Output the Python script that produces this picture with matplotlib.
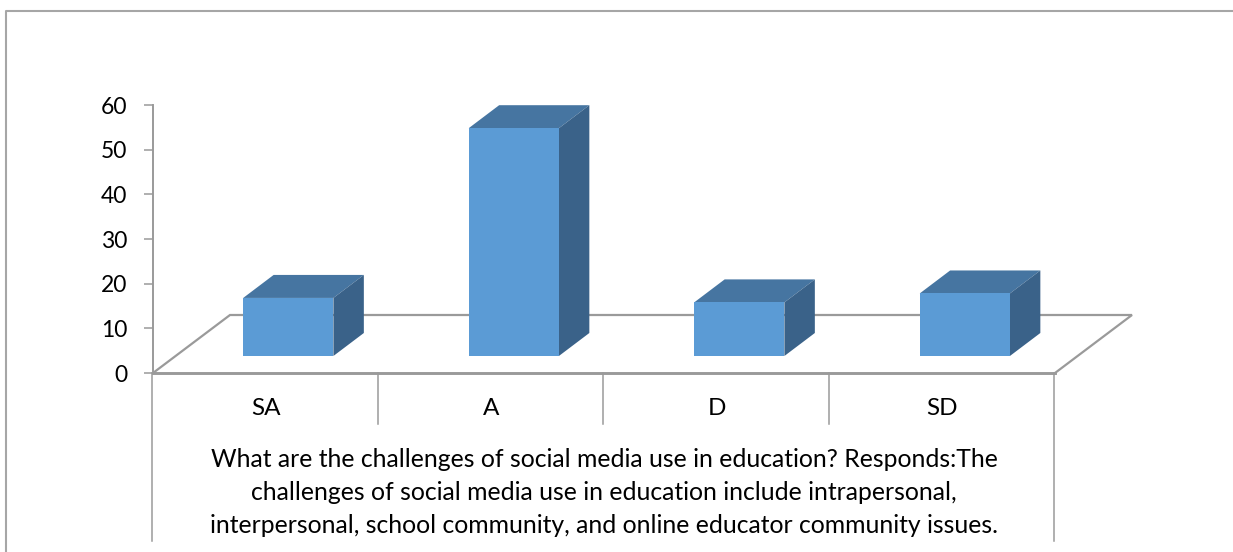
import matplotlib
matplotlib.use("Agg")
import matplotlib.pyplot as plt
from matplotlib.patches import Polygon
from matplotlib.lines import Line2D

categories = ["SA", "A", "D", "SD"]
values = [13, 51, 12, 14]
yticks = [0, 10, 20, 30, 40, 50, 60]
xlabel_lines = [
    "What are the challenges of social media use in education? Responds:The",
    "challenges of social media use in education include intrapersonal,",
    "interpersonal, school community, and online educator community issues.",
]

W, H = 1233, 552
plt.rcParams["font.family"] = ["Lato", "DejaVu Sans"]
fig = plt.figure(figsize=(W / 100, H / 100), dpi=100, facecolor="white")
L, R, T, B = 153, 1055, 105, 373
ax = fig.add_axes([L / W, 1 - B / H, (R - L) / W, (B - T) / H])
ax.set_xlim(-0.5, 3.5)
ax.set_ylim(0, 60)
ax.patch.set_visible(False)
for s in ["top", "right", "bottom"]:
    ax.spines[s].set_visible(False)
GREY = "#9a9a9a"
ax.spines["left"].set_color(GREY)
ax.spines["left"].set_linewidth(1.4)
ax.set_yticks(yticks)
ax.set_xticks([])
ax.tick_params(axis="y", length=6.5, width=1.1, color=GREY, labelsize=16.5, pad=12, labelcolor="black")

# floor geometry, in data units
floor_dx = 77 / 225.5
floor_dy = 58 / (268 / 60)
bar_w = 0.4
bar_dx = 0.135
bar_dy = 23 / (268 / 60)
base_x = 0.1
base_y = 17 / (268 / 60)

ax.add_line(Line2D([-0.5, -0.5 + floor_dx, 3.5 + floor_dx, 3.5], [0, floor_dy, floor_dy, 0],
                   color=GREY, lw=1.6, clip_on=False, solid_joinstyle="miter", zorder=1))
ax.add_line(Line2D([-0.5, 3.5], [0, 0], color=GREY, lw=2.1, clip_on=False, zorder=1))

# category separators below the axis
for i in range(5):
    low = -37.7 if i in (0, 4) else -11.4
    ax.add_line(Line2D([i - 0.503, i - 0.503], [0, low], color=GREY, lw=1.1, clip_on=False, zorder=1))

FRONT, TOP, SIDE = "#5b9bd5", "#4675a1", "#3a6289"
for i, v in enumerate(values):
    x0 = i - bar_w / 2 + base_x
    x1 = x0 + bar_w
    y0 = base_y
    y1 = base_y + v
    ax.add_patch(Polygon([(x0, y1), (x1, y1), (x1 + bar_dx, y1 + bar_dy), (x0 + bar_dx, y1 + bar_dy)],
                         fc=TOP, ec="none", clip_on=False, zorder=3))
    ax.add_patch(Polygon([(x1, y0), (x1 + bar_dx, y0 + bar_dy), (x1 + bar_dx, y1 + bar_dy), (x1, y1)],
                         fc=SIDE, ec="none", clip_on=False, zorder=3))
    ax.add_patch(Polygon([(x0, y0), (x1, y0), (x1, y1), (x0, y1)], fc=FRONT, ec="none", clip_on=False, zorder=4))
    ax.text(i, -8.0, categories[i], ha="center", va="center", fontsize=17.5, color="black", clip_on=False)

for k, line in enumerate(xlabel_lines):
    ax.text(1.5, -19.4 - k * 7.4, line, ha="center", va="center", fontsize=17.8, color="black", clip_on=False)

# outer chart frame
fig.add_artist(Line2D([6 / W, 6 / W, 1], [0, 1 - 11 / H, 1 - 11 / H], color="#a6a6a6", lw=1.5,
                      transform=fig.transFigure))
fig.savefig("out.png", dpi=100)
